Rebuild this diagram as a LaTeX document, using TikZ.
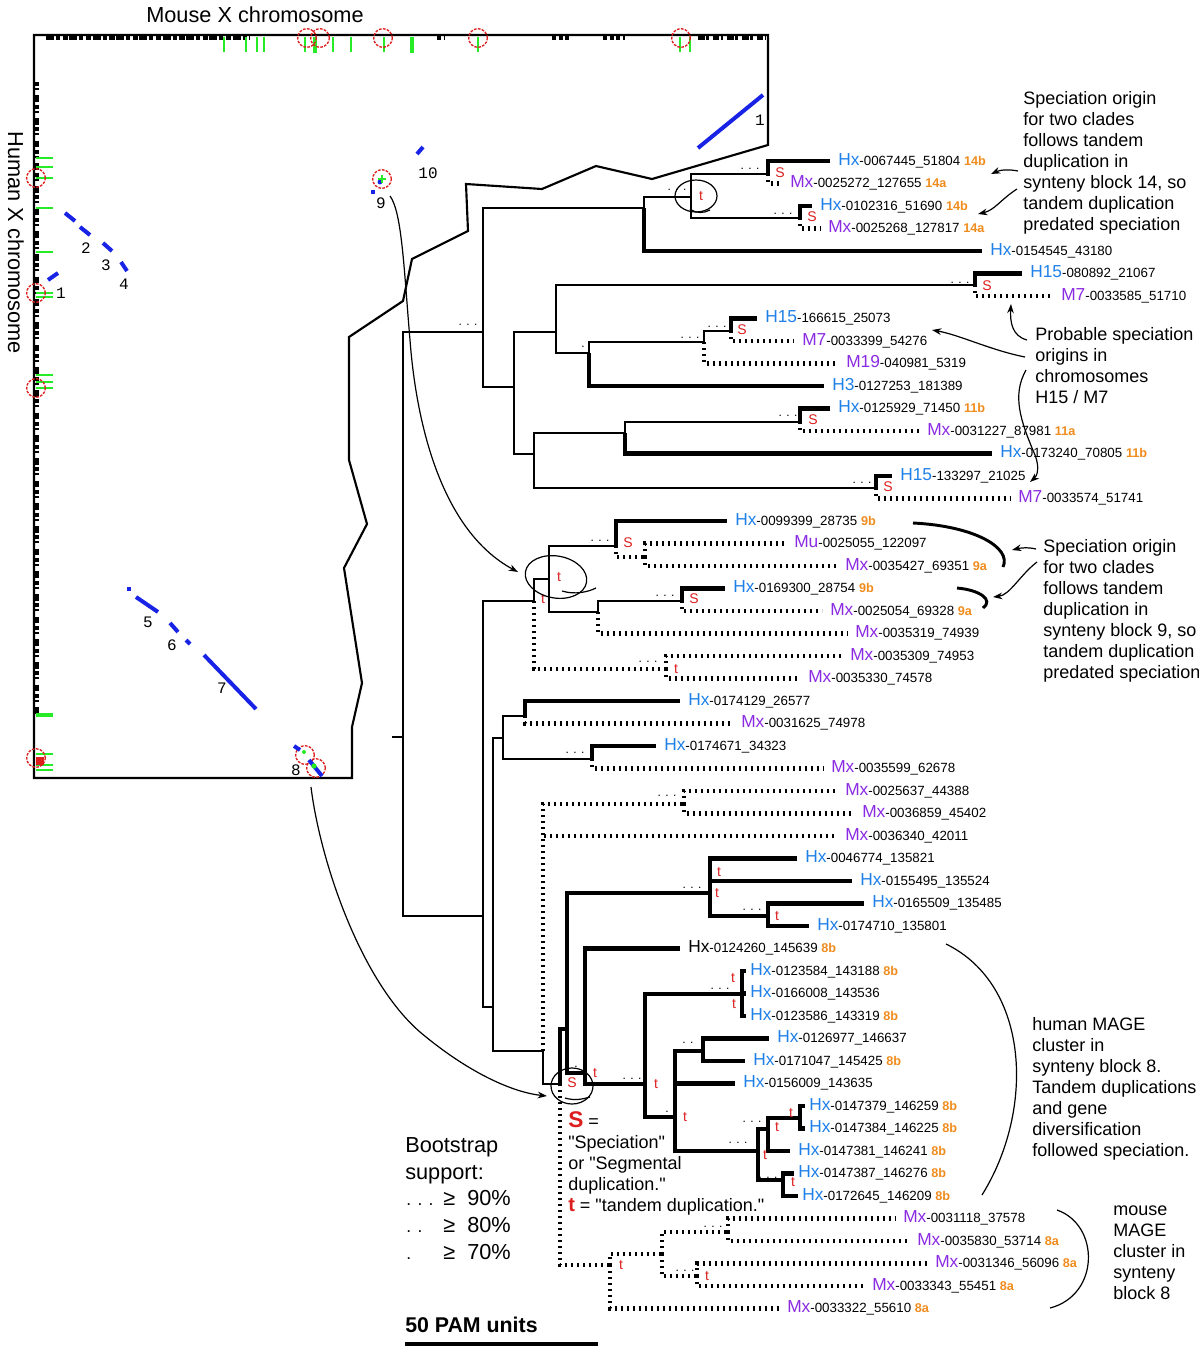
\documentclass[tikz,border=0pt]{standalone}
\usepackage{fontspec}
\setmainfont{Liberation Sans}
\setmonofont{Liberation Mono}
\usetikzlibrary{arrows.meta}
\definecolor{hblue}{RGB}{30,128,232}
\definecolor{mpurple}{RGB}{138,43,226}
\definecolor{tagorange}{RGB}{240,140,30}
\definecolor{evred}{RGB}{220,30,30}
\definecolor{plotgreen}{RGB}{40,235,40}
\definecolor{plotblue}{RGB}{25,35,230}

\newcommand\pfx[2]{{\color{#1}\fontsize{13}{13}\selectfont #2}}
\newcommand\hum[2]{\pfx{hblue}{#1}#2}
\newcommand\mou[2]{\pfx{mpurple}{#1}#2}
\newcommand\tg[1]{\ {\color{tagorange}\bfseries\fontsize{9.5}{10}\selectfont #1}}
\newcommand\topstrut{\rule{0pt}{14pt}}
\newcommand\qq{\textquotedbl}

\tikzset{
  xb/.style={line width=1.6pt},
  hb/.style={line width=3.6pt},
  mb/.style={line width=3.6pt, dash pattern=on 1.6pt off 2.9pt},
  hl/.style={hb, shorten >=6pt},
  ml/.style={mb, shorten >=6pt},
  hs/.style={hb, shorten >=3pt},
  leaf/.style={anchor=west, inner sep=0pt, text height=8pt, text depth=1.6pt, font=\fontsize{10}{10}\selectfont},
  ev/.style={text=evred, inner sep=0pt, font=\fontsize{10.5}{10.5}\selectfont},
  boot/.style={inner sep=0pt, font=\fontsize{9}{9}\selectfont},
  note/.style={anchor=north west, align=left, inner sep=0pt, font=\fontsize{13.5}{15.75}\selectfont},
  ann/.style={line width=0.9pt, -{Stealth[length=7pt, width=5pt]}},
  plotnum/.style={inner sep=0pt, font=\ttfamily\fontsize{12}{12}\selectfont},
  gtick/.style={plotgreen, line width=1.5pt},
  rcirc/.style={evred, line width=1pt, dash pattern=on 2pt off 1pt},
  seg/.style={plotblue, line width=3pt},
}

\begin{document}
\begin{tikzpicture}[x=0.75pt, y=-0.75pt]
  \useasboundingbox (0,0) rectangle (1199,1347);

  % axis titles of the dot plot
  \node[font=\fontsize{16.3}{16}\selectfont] (mousex) at (255,15) {Mouse X chromosome};
  \node[font=\fontsize{16.3}{16}\selectfont, rotate=-90] (humanx) at (16,243) {Human X chromosome};

  % dot plot frame
  \draw[line width=1.6pt] (34,35) -- (768,35) -- (768,145) -- (652,179) -- (596,166)
    -- (542,189) -- (466,184) -- (468,231) -- (412,259) -- (403,301) -- (349,337)
    -- (349,460) -- (367,524) -- (344,568) -- (362,683) -- (352,727) -- (352,778)
    -- (34,778) -- cycle;

  % axis marks
  \draw[line width=3pt, dash pattern=on 6pt off 1.5pt on 3pt off 2pt on 4pt off 1pt] (46,37.5) -- (250,37.5);
  \draw[line width=3pt, dash pattern=on 3pt off 2pt] (437,37.5) -- (444,37.5) (552,37.5) -- (571,37.5) (603,37.5) -- (625,37.5);
  \draw[line width=3pt, dash pattern=on 5pt off 1pt on 2pt off 3pt] (698,37.5) -- (766,37.5);
  \draw[line width=3pt, dash pattern=on 3pt off 1.5pt on 1.5pt off 4pt on 5pt off 2pt] (36.5,82) -- (36.5,715);
  \foreach \x in {224,246,257,264,305,333,351,384,478,680,690}
    \draw[gtick] (\x,37) -- (\x,52);
  \foreach \x in {315,412}
    \draw[gtick, line width=3pt] (\x,37) -- (\x,53);
  \foreach \y in {158,167,178,208,252,293,297,375,382,388,754,765,770}
    \draw[gtick] (36,\y) -- (53,\y);
  \draw[gtick, line width=3pt] (36,715) -- (53,715);
  \fill[evred] (36,757) rectangle (44,765);
  \foreach \x/\y in {307/38, 320/38, 383/38, 478/38, 681/38, 36/178, 36/293, 36/388, 36/758, 382/179, 305/755, 316/768}
    \draw[rcirc] (\x,\y) circle [radius=7pt];

  % synteny blocks
  \draw[seg] (698,148) -- (763,95);
  \draw[seg] (417,154) -- (423,147);
  \fill[plotblue] (380,182) circle [radius=1.8pt];
  \fill[plotblue] (371,190) rectangle (375,194);
  \draw[plotgreen, line width=1pt] (378,179) -- (386,179) (382,175) -- (382,183);
  \draw[seg] (65,213) -- (75,221);
  \draw[seg] (80,227) -- (90,235);
  \draw[seg] (103,243) -- (112,251);
  \draw[seg] (121,262) -- (127,271);
  \draw[seg] (48,280) -- (58,273);
  \fill[plotblue] (127,587) rectangle (131,591);
  \draw[seg] (136,597) -- (158,612);
  \draw[seg] (170,623) -- (178,632);
  \draw[seg] (186,640) -- (190,644);
  \draw[seg] (204,655) -- (256,709);
  \draw[seg] (294,746) -- (300,750);
  \draw[seg] (309,760) -- (322,776);
  \fill[plotgreen] (304,752) circle [radius=1.5pt];
  \fill[plotgreen] (314,766) circle [radius=2pt];

  \node[plotnum] (p1a) at (760,120) {1};
  \node[plotnum] (p10) at (428,173) {10};
  \node[plotnum] (p9) at (381,203) {9};
  \node[plotnum] (p2) at (86,248) {2};
  \node[plotnum] (p3) at (106,265) {3};
  \node[plotnum] (p4) at (124,284) {4};
  \node[plotnum] (p1b) at (61,293) {1};
  \node[plotnum] (p5) at (148,622) {5};
  \node[plotnum] (p6) at (172,645) {6};
  \node[plotnum] (p7) at (222,688) {7};
  \node[plotnum] (p8) at (296,770) {8};

  % tree nodes
  \coordinate (r0) at (392,737);
  \coordinate (r) at (403,737);
  \coordinate (a1) at (483,332);
  \coordinate (a2) at (644,208);
  \coordinate (a3) at (691,197);
  \coordinate (a4) at (768,174);
  \coordinate (a5) at (800,218);
  \coordinate (a6) at (514,387);
  \coordinate (a7) at (556,332);
  \coordinate (a8) at (975,285);
  \coordinate (a9) at (589,353);
  \coordinate (a10) at (704,342);
  \coordinate (a11) at (731,331);
  \coordinate (a12) at (534,454);
  \coordinate (a13) at (625,433);
  \coordinate (a14) at (800,422);
  \coordinate (a15) at (876,488);
  \coordinate (b1) at (483,916);
  \coordinate (b2) at (534,601);
  \coordinate (b3) at (549,579);
  \coordinate (b4) at (616,546);
  \coordinate (b5) at (645,557);
  \coordinate (b6) at (598,612);
  \coordinate (b7) at (682,601);
  \coordinate (b8) at (666,669);
  \coordinate (b9) at (493,1007);
  \coordinate (b10) at (503,738);
  \coordinate (b11) at (525,716);
  \coordinate (b12) at (592,759);
  \coordinate (b13) at (543,1051);
  \coordinate (b14) at (684,804);
  \coordinate (sp) at (560,1084);
  \coordinate (c1) at (567,1029);
  \coordinate (c2) at (710,893);
  \coordinate (c3) at (768,916);
  \coordinate (c4) at (585,1073);
  \coordinate (c5) at (645,1084);
  \coordinate (c6) at (742,994);
  \coordinate (c7) at (675,1117);
  \coordinate (c8) at (703,1051);
  \coordinate (c9) at (758,1151);
  \coordinate (c10) at (768,1129);
  \coordinate (c11) at (800,1118);
  \coordinate (c12) at (783,1180);
  \coordinate (d1) at (610,1265);
  \coordinate (d2) at (662,1254);
  \coordinate (d3) at (728,1232);
  \coordinate (d4) at (697,1276);

  % leaves
  \node[leaf] (l1) at (838,161) {\hum{Hx}{-0067445\_51804}\tg{14b}};
  \node[leaf] (l2) at (790,183.5) {\mou{Mx}{-0025272\_127655}\tg{14a}};
  \node[leaf] (l3) at (820,206) {\hum{Hx}{-0102316\_51690}\tg{14b}};
  \node[leaf] (l4) at (828,228.5) {\mou{Mx}{-0025268\_127817}\tg{14a}};
  \node[leaf] (l5) at (990,251) {\hum{Hx}{-0154545\_43180}};
  \node[leaf] (l6) at (1030,273.5) {\hum{H15}{-080892\_21067}};
  \node[leaf] (l7) at (1061,296) {\mou{M7}{-0033585\_51710}};
  \node[leaf] (l8) at (765,318.5) {\hum{H15}{-166615\_25073}};
  \node[leaf] (l9) at (802,341) {\mou{M7}{-0033399\_54276}};
  \node[leaf] (l10) at (846,363.5) {\mou{M19}{-040981\_5319}};
  \node[leaf] (l11) at (832,386) {\hum{H3}{-0127253\_181389}};
  \node[leaf] (l12) at (838,408.5) {\hum{Hx}{-0125929\_71450}\tg{11b}};
  \node[leaf] (l13) at (927,431) {\mou{Mx}{-0031227\_87981}\tg{11a}};
  \node[leaf] (l14) at (1000,453.5) {\hum{Hx}{-0173240\_70805}\tg{11b}};
  \node[leaf] (l15) at (900,476) {\hum{H15}{-133297\_21025}};
  \node[leaf] (l16) at (1018,498.5) {\mou{M7}{-0033574\_51741}};
  \node[leaf] (l17) at (735,521) {\hum{Hx}{-0099399\_28735}\tg{9b}};
  \node[leaf] (l18) at (794,543.5) {\mou{Mu}{-0025055\_122097}};
  \node[leaf] (l19) at (845,566) {\mou{Mx}{-0035427\_69351}\tg{9a}};
  \node[leaf] (l20) at (733,588.5) {\hum{Hx}{-0169300\_28754}\tg{9b}};
  \node[leaf] (l21) at (830,611) {\mou{Mx}{-0025054\_69328}\tg{9a}};
  \node[leaf] (l22) at (855,633.5) {\mou{Mx}{-0035319\_74939}};
  \node[leaf] (l23) at (850,656) {\mou{Mx}{-0035309\_74953}};
  \node[leaf] (l24) at (808,678.5) {\mou{Mx}{-0035330\_74578}};
  \node[leaf] (l25) at (688,701) {\hum{Hx}{-0174129\_26577}};
  \node[leaf] (l26) at (741,723.5) {\mou{Mx}{-0031625\_74978}};
  \node[leaf] (l27) at (664,746) {\hum{Hx}{-0174671\_34323}};
  \node[leaf] (l28) at (831,768.5) {\mou{Mx}{-0035599\_62678}};
  \node[leaf] (l29) at (845,791) {\mou{Mx}{-0025637\_44388}};
  \node[leaf] (l30) at (862,813.5) {\mou{Mx}{-0036859\_45402}};
  \node[leaf] (l31) at (845,836) {\mou{Mx}{-0036340\_42011}};
  \node[leaf] (l32) at (805,858.5) {\hum{Hx}{-0046774\_135821}};
  \node[leaf] (l33) at (860,881) {\hum{Hx}{-0155495\_135524}};
  \node[leaf] (l34) at (872,903.5) {\hum{Hx}{-0165509\_135485}};
  \node[leaf] (l35) at (817,926) {\hum{Hx}{-0174710\_135801}};
  \node[leaf] (l36) at (688,948.5) {\pfx{black}{Hx}-0124260\_145639\tg{8b}};
  \node[leaf] (l37) at (750,971) {\hum{Hx}{-0123584\_143188}\tg{8b}};
  \node[leaf] (l38) at (750,993.5) {\hum{Hx}{-0166008\_143536}};
  \node[leaf] (l39) at (750,1016) {\hum{Hx}{-0123586\_143319}\tg{8b}};
  \node[leaf] (l40) at (777,1038.5) {\hum{Hx}{-0126977\_146637}};
  \node[leaf] (l41) at (753,1061) {\hum{Hx}{-0171047\_145425}\tg{8b}};
  \node[leaf] (l42) at (743,1083.5) {\hum{Hx}{-0156009\_143635}};
  \node[leaf] (l43) at (809,1106) {\hum{Hx}{-0147379\_146259}\tg{8b}};
  \node[leaf] (l44) at (809,1128.5) {\hum{Hx}{-0147384\_146225}\tg{8b}};
  \node[leaf] (l45) at (798,1151) {\hum{Hx}{-0147381\_146241}\tg{8b}};
  \node[leaf] (l46) at (798,1173.5) {\hum{Hx}{-0147387\_146276}\tg{8b}};
  \node[leaf] (l47) at (802,1196) {\hum{Hx}{-0172645\_146209}\tg{8b}};
  \node[leaf] (l48) at (903,1218.5) {\mou{Mx}{-0031118\_37578}};
  \node[leaf] (l49) at (917,1241) {\mou{Mx}{-0035830\_53714}\tg{8a}};
  \node[leaf] (l50) at (935,1263.5) {\mou{Mx}{-0031346\_56096}\tg{8a}};
  \node[leaf] (l51) at (872,1286) {\mou{Mx}{-0033343\_55451}\tg{8a}};
  \node[leaf] (l52) at (787,1308.5) {\mou{Mx}{-0033322\_55610}\tg{8a}};

  % branches: xb mixed, hb human only, mb mouse only
  \draw[xb] (r0) -- (r);
  \foreach \p/\c/\s in {r/a1/xb, r/b1/xb, a1/a2/xb, a1/a6/xb, a2/a3/xb, a2/l5.west/hl,
      a3/a4/xb, a3/a5/xb, a4/l1.west/hl, a4/l2.west/ml, a5/l3.west/hl, a5/l4.west/ml,
      a6/a7/xb, a6/a12/xb, a7/a8/xb, a7/a9/xb, a8/l6.west/hl, a8/l7.west/ml,
      a9/a10/xb, a9/l11.west/hl, a10/a11/xb, a10/l10.west/ml, a11/l8.west/hl, a11/l9.west/ml,
      a12/a13/xb, a12/a15/xb, a13/a14/xb, a13/l14.west/hl, a14/l12.west/hl, a14/l13.west/ml,
      a15/l15.west/hl, a15/l16.west/ml}
    \draw[\s] (\p) |- (\c);
  \foreach \p/\c/\s in {b1/b2/xb, b1/b9/xb, b2/b3/xb, b2/b8/mb, b3/b4/xb, b3/b6/xb,
      b4/l17.west/hl, b4/b5/mb, b5/l18.west/ml, b5/l19.west/ml, b6/b7/xb, b6/l22.west/ml,
      b7/l20.west/hl, b7/l21.west/ml, b8/l23.west/ml, b8/l24.west/ml,
      b9/b10/xb, b9/b13/xb, b10/b11/xb, b10/b12/xb, b11/l25.west/hl, b11/l26.west/ml,
      b12/l27.west/hl, b12/l28.west/ml, b13/b14/mb, b13/l31.west/ml, b13/sp/xb,
      b14/l29.west/ml, b14/l30.west/ml}
    \draw[\s] (\p) |- (\c);
  \foreach \p/\c/\s in {sp/c1/hb, sp/d1/mb, c1/c2/hb, c1/c4/hb, c2/l32.west/hl, c2/l33.west/hl,
      c2/c3/hb, c3/l34.west/hl, c3/l35.west/hl, c4/l36.west/hl, c4/c5/hb, c5/c6/hb, c5/c7/hb,
      c6/l37.west/hs, c6/l38.west/hs, c6/l39.west/hs, c7/c8/hb, c7/l42.west/hl, c7/c9/hb,
      c8/l40.west/hl, c8/l41.west/hl, c9/c10/hb, c9/c12/hb, c10/c11/hb, c10/l45.west/hl,
      c11/l43.west/hs, c11/l44.west/hs, c12/l46.west/hs, c12/l47.west/hs,
      d1/d2/mb, d1/l52.west/ml, d2/d3/mb, d2/d4/mb, d3/l48.west/ml, d3/l49.west/ml,
      d4/l50.west/ml, d4/l51.west/ml}
    \draw[\s] (\p) |- (\c);

  % speciation and tandem marks
  \foreach \x/\y [count=\i] in {780/173, 812/217, 987/286, 742/330, 813/420, 888/487,
      628/543, 694/599, 572/1083}
    \node[ev] (s\i) at (\x,\y) {S};
  \foreach \x/\y [count=\i] in {701/196, 559/577, 543/599, 676/669, 719/872, 717/893,
      777/916, 733/978, 734/1004, 595/1073, 656/1084, 685/1117, 777/1127, 791/1113,
      765/1155, 793/1182, 621/1265, 707/1276}
    \node[ev] (t\i) at (\x,\y) {t};

  % bootstrap dots
  \foreach \x/\y [count=\i] in {750/169, 783/214, 677/190, 960/283, 468/325, 717/327,
      690/338, 788/416, 862/483, 600/541, 665/596, 648/662, 575/753, 667/796, 692/888,
      752/910, 720/989, 632/1079, 752/1122, 738/1143, 768/1178, 713/1227, 685/1271}
    \node[boot] (bt\i) at (\x,\y) {. . .};
  \node[boot] (bd1) at (688,1043) {. .};
  \foreach \x/\y [count=\i] in {583/347, 576/1067, 667/1112}
    \node[boot] (bs\i) at (\x,\y) {.};

  % circled events
  \draw[line width=0.9pt] (696,196) ellipse [x radius=15.75pt, y radius=12pt];
  \draw[line width=0.9pt] (690,209) .. controls (697,214) and (704,213) .. (710,210);
  \draw[line width=0.9pt, rotate around={-10:(556,577)}] (556,577) ellipse [x radius=23.25pt, y radius=15.75pt];
  \draw[line width=0.9pt] (562,591) .. controls (575,595) and (588,592) .. (596,588);
  \draw[line width=0.9pt] (572,1086) ellipse [x radius=15.75pt, y radius=13.5pt];
  \draw[line width=0.9pt] (565,1098) .. controls (575,1101) and (583,1099) .. (590,1097);

  % links from the dot plot
  \draw[ann] (390,196) .. controls (402,212) and (404,270) .. (410,340)
    .. controls (416,420) and (440,530) .. (518,572);
  \draw[ann] (311,787) .. controls (320,860) and (360,980) .. (420,1032)
    .. controls (465,1070) and (510,1092) .. (547,1096);

  % notes
  \node[note] (n14) at (1023,85.3) {\topstrut Speciation origin\\for two clades\\follows tandem\\duplication in\\synteny block 14, so\\tandem duplication\\predated speciation};
  \draw[ann] (1018,171) .. controls (1008,169) and (1000,170) .. (991,174);
  \draw[ann] (1017,189) .. controls (1000,200) and (995,210) .. (978,214);

  \node[note] (nh15) at (1035,321.3) {\topstrut Probable speciation\\origins in\\chromosomes\\H15 / M7};
  \draw[ann] (1027,340) .. controls (1012,336) and (1010,322) .. (1011,304);
  \draw[ann] (1025,357) .. controls (990,350) and (960,335) .. (932,330);
  \draw[ann] (1026,370) .. controls (1012,395) and (1020,420) .. (1035,455)
    .. controls (1040,468) and (1037,476) .. (1030,482);

  \node[note] (n9) at (1043,533.3) {\topstrut Speciation origin\\for two clades\\follows tandem\\duplication in\\synteny block 9, so\\tandem duplication\\predated speciation};
  \draw[line width=2.2pt] (913,523) .. controls (975,526) and (1012,548) .. (1003,567);
  \draw[line width=2.2pt] (957,588) .. controls (980,590) and (994,600) .. (983,608);
  \draw[ann] (1036,549) .. controls (1028,547) and (1020,548) .. (1012,550);
  \draw[ann] (1037,562) .. controls (1020,575) and (1010,595) .. (993,597);

  \node[note] (nhum) at (1032,1011.3) {\topstrut human MAGE\\cluster in\\synteny block 8.\\Tandem duplications\\and gene\\diversification\\followed speciation.};
  \draw[line width=0.9pt] (946,944) .. controls (1030,985) and (1035,1110) .. (982,1195);

  \node[note] (nmou) at (1113,1196.3) {\topstrut mouse\\MAGE\\cluster in\\synteny\\block 8};
  \draw[line width=0.9pt] (1057,1210) .. controls (1100,1225) and (1100,1295) .. (1050,1308);

  % legend
  \node[note] (skey) at (568,1108.3) {\topstrut{\color{evred}\bfseries\fontsize{17}{17}\selectfont S} =\\\qq Speciation\qq\\or \qq Segmental\\duplication.\qq\\{\color{evred}\bfseries\fontsize{15}{15}\selectfont t} = \qq tandem duplication.\qq};
  \node[anchor=base west, inner sep=0pt, font=\fontsize{16.3}{16}\selectfont] (boot1) at (405,1152) {Bootstrap};
  \node[anchor=base west, inner sep=0pt, font=\fontsize{16.3}{16}\selectfont] (boot2) at (405,1179) {support:};
  \foreach \d/\p/\yy in {{. . .}/90/1205, {. .}/80/1232, {.}/70/1259} {
    \node[anchor=base west, inner sep=0pt, font=\fontsize{13}{13}\selectfont] (bd\p) at (406,\yy) {\d};
    \node[anchor=base west, inner sep=0pt, font=\fontsize{16.3}{16}\selectfont] (bg\p) at (443,\yy) {≥};
    \node[anchor=base west, inner sep=0pt, font=\fontsize{16.3}{16}\selectfont] (bp\p) at (467,\yy) {\p\%};
  }

  % scale bar
  \node[anchor=base west, inner sep=0pt, font=\bfseries\fontsize{16}{16}\selectfont] (pam) at (405,1332) {50 PAM units};
  \coordinate (bar0) at (405,1344);
  \coordinate (bar1) at (598,1344);
  \draw[line width=3.5pt] (bar0) -- (bar1);
\end{tikzpicture}
\end{document}
